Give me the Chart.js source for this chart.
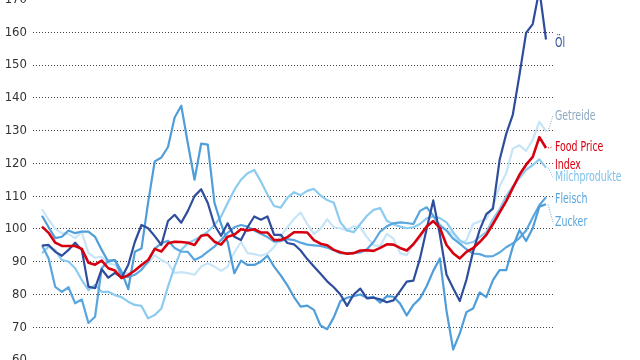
<!DOCTYPE html>
<html lang="de">
<head>
    <meta charset="UTF-8">
    <title>Food Price Index</title>
    <script src="https://cdn.jsdelivr.net/npm/chart.js"></script>
    <style>
        html, body { margin: 0; padding: 0; background: #fff; overflow: hidden; }
        .wrap { position: relative; width: 640px; height: 360px; overflow: hidden; }
        canvas { position: absolute; left: 0; top: -20px; }
    </style>
</head>
<body>
<div class="wrap"><canvas id="chart" width="640" height="400"></canvas></div>
<script>
// Indexwerte je Periode
const foodPrice = [100.7, 98.8, 95.8, 94.8, 94.8, 94.8, 93.9, 89.7, 89.1, 90.3,
    88.0, 87.3, 85.0, 85.9, 87.3, 89.0, 90.5, 93.9, 93.1, 95.6,
    96.1, 96.0, 95.8, 95.1, 97.9, 98.2, 96.1, 95.2, 97.6, 98.2,
    99.9, 99.5, 99.9, 98.9, 98.9, 96.6, 96.6, 97.5, 99.0, 99.0,
    98.9, 96.6, 95.5, 95.0, 93.6, 92.9, 92.4, 92.6, 93.4, 93.5,
    93.3, 94.2, 95.3, 95.2, 94.2, 93.4, 95.3, 98.0, 100.7, 102.4,
    100.3, 95.1, 92.6, 91.0, 93.0, 94.1, 96.0, 98.2, 101.5, 105.0,
    108.5, 112.5, 116.5, 119.6, 122.0, 128.0, 124.7];

const oel = [94.9, 95.1, 93.0, 91.8, 93.6, 95.8, 93.6, 82.4, 81.9, 87.7,
    85.1, 86.6, 85.1, 89.0, 96.0, 101.2, 100.2, 97.8, 95.1, 102.4,
    104.3, 101.9, 105.5, 110.0, 112.1, 107.9, 101.2, 97.9, 101.7, 97.6,
    96.6, 100.5, 103.8, 102.8, 103.8, 98.2, 98.2, 95.7, 95.3, 93.4,
    90.8, 88.5, 86.3, 84.0, 82.2, 80.0, 76.5, 80.0, 81.8, 78.8,
    79.0, 78.5, 77.6, 78.2, 81.0, 83.9, 84.2, 91.0, 100.0, 108.7,
    98.2, 86.0, 81.9, 78.0, 84.5, 93.0, 99.7, 104.5, 106.2, 121.0,
    129.0, 134.9, 147.0, 159.8, 162.5, 173.0, 157.8];

const getreide = [106.0, 102.8, 100.0, 98.7, 98.5, 97.2, 99.0, 92.6, 91.2, 91.5,
    89.5, 89.0, 86.2, 86.5, 87.3, 88.5, 89.5, 92.0, 90.5, 89.5,
    86.5, 86.8, 86.5, 86.0, 88.5, 89.5, 88.5, 87.2, 88.5, 92.8,
    96.0, 92.6, 92.3, 91.8, 92.5, 94.5, 97.8, 100.5, 103.0, 105.0,
    101.5, 98.5, 100.0, 103.0, 100.5, 100.2, 99.5, 100.8, 100.5, 97.5,
    95.0, 94.8, 98.5, 97.0, 92.6, 92.0, 95.5, 97.0, 100.5, 102.2,
    101.5, 99.7, 98.5, 95.5, 96.5, 101.5, 102.3, 103.0, 107.0, 113.0,
    117.0, 124.5, 125.5, 123.8, 127.2, 132.7, 129.8];

const milchprodukte = [92.6, 94.6, 93.5, 90.5, 90.0, 88.0, 84.4, 81.3, 82.9, 80.8,
    80.8, 79.8, 79.2, 77.8, 76.8, 76.5, 72.7, 73.7, 75.7, 82.4,
    88.5, 93.6, 95.6, 96.6, 97.8, 99.2, 101.2, 103.8, 107.9, 111.9,
    115.0, 117.0, 118.0, 114.5, 110.5, 107.0, 106.5, 109.5, 111.2, 110.3,
    111.6, 112.2, 110.2, 108.8, 108.0, 102.0, 99.5, 99.0, 101.5, 104.0,
    105.8, 106.4, 102.5, 101.4, 100.7, 100.2, 100.5, 101.5, 103.2, 103.8,
    103.3, 102.0, 99.0, 96.5, 95.5, 96.0, 97.5, 99.0, 103.0, 106.0,
    110.0, 113.0, 115.5, 118.0, 119.5, 121.2, 118.7];

const fleisch = [95.0, 91.0, 82.3, 80.8, 82.2, 77.3, 78.5, 71.3, 73.2, 88.0,
    90.3, 90.5, 85.5, 85.3, 86.0, 87.5, 90.0, 94.0, 95.6, 96.4,
    94.2, 93.1, 93.0, 90.5, 91.5, 93.1, 94.6, 96.6, 98.8, 100.5,
    101.2, 100.7, 99.5, 98.5, 97.5, 96.1, 96.3, 96.9, 96.6, 95.8,
    95.2, 95.0, 94.8, 94.3, 93.5, 92.6, 92.6, 92.6, 92.8, 93.8,
    96.0, 99.2, 100.8, 101.7, 102.0, 101.8, 101.5, 105.5, 106.6, 104.0,
    101.0, 99.5, 97.0, 95.5, 93.8, 92.5, 92.3, 91.6, 91.7, 92.8,
    94.4, 95.6, 97.2, 99.5, 103.5, 107.2, 109.7];

const zucker = [104.0, 100.5, 97.2, 97.6, 99.5, 98.7, 99.2, 99.2, 97.6, 93.6,
    90.0, 90.5, 87.0, 81.6, 93.0, 94.0, 108.0, 120.6, 121.8, 125.0,
    134.0, 137.6, 126.0, 115.0, 126.0, 125.7, 108.0, 101.5, 96.0, 86.5,
    90.3, 89.0, 89.0, 90.0, 91.8, 88.5, 85.8, 82.8, 79.2, 76.3,
    76.6, 75.3, 70.5, 69.4, 73.0, 78.0, 79.0, 79.5, 80.0, 79.0,
    79.3, 77.5, 79.5, 79.3, 77.2, 73.6, 76.8, 78.8, 82.5, 87.2,
    91.0, 75.0, 63.2, 68.1, 74.6, 75.7, 80.6, 79.2, 84.4, 87.4,
    87.4, 94.6, 99.6, 96.3, 100.2, 106.8, 107.5];

const yTicks = { min: 60, max: 170, step: 10 };

// Beschriftung am rechten Rand (Wert = Höhe der Beschriftung)
const endLabels = [
    { text: "Öl", value: 156.8, color: "#2e4d9c" },
    { text: "Getreide", value: 134.5, color: "#8eaac2", leader: getreide },
    { text: "Food Price", value: 125.0, color: "#d7000f", leader: foodPrice },
    { text: "Index", value: 119.4, color: "#d7000f" },
    { text: "Milchprodukte", value: 115.7, color: "#7fc2ea", leader: milchprodukte },
    { text: "Fleisch", value: 109.2, color: "#5aa4dc" },
    { text: "Zucker", value: 102.1, color: "#5aa4dc", leader: zucker }
];

const schrift = '"DejaVu Sans Condensed", "Liberation Sans", sans-serif';
const punkte = arr => arr.map((v, i) => ({ x: i, y: v }));

const labelPlugin = {
    id: "endLabels",
    afterDatasetsDraw(chart) {
        const { ctx, chartArea, scales } = chart;
        const lastX = scales.x.getPixelForValue(foodPrice.length - 1);
        ctx.save();
        ctx.textBaseline = "middle";
        ctx.textAlign = "left";
        endLabels.forEach(l => {
            const y = scales.y.getPixelForValue(l.value);
            if (l.leader) {
                const y0 = scales.y.getPixelForValue(l.leader[l.leader.length - 1]);
                ctx.strokeStyle = l.color;
                ctx.lineWidth = 1;
                ctx.setLineDash([1, 1.5]);
                ctx.beginPath();
                ctx.moveTo(lastX + 2, y0);
                ctx.lineTo(chartArea.right - 2, y);
                ctx.stroke();
            }
            // schmal gestauchte Schrift wie im Original
            ctx.save();
            ctx.translate(chartArea.right, y);
            ctx.scale(0.72, 1);
            ctx.font = "14.5px " + schrift;
            ctx.fillStyle = l.color;
            ctx.fillText(l.text, 0, 0);
            ctx.restore();
        });
        ctx.restore();
    }
};

const ctx = document.getElementById("chart").getContext("2d");
new Chart(ctx, {
    type: "line",
    data: {
        datasets: [
            { label: "Food Price Index", data: punkte(foodPrice), borderColor: "#d7000f", borderWidth: 2.6 },
            { label: "Öl", data: punkte(oel), borderColor: "#2e4d9c", borderWidth: 2.2 },
            { label: "Zucker", data: punkte(zucker), borderColor: "#4f9dd9", borderWidth: 2.2 },
            { label: "Fleisch", data: punkte(fleisch), borderColor: "#5aa6de", borderWidth: 2.2 },
            { label: "Milchprodukte", data: punkte(milchprodukte), borderColor: "#8ccbf0", borderWidth: 2.2 },
            { label: "Getreide", data: punkte(getreide), borderColor: "#c6e5f7", borderWidth: 2.2 }
        ]
    },
    options: {
        responsive: false,
        animation: false,
        layout: { padding: { top: 19.5, bottom: 20, left: 0, right: 85 } },
        elements: {
            point: { radius: 0 },
            line: { tension: 0, borderJoinStyle: "round", fill: false }
        },
        plugins: { legend: { display: false }, tooltip: { enabled: false } },
        scales: {
            x: { type: "linear", display: false, min: -1.357, max: 77.357 },
            y: {
                min: yTicks.min,
                max: yTicks.max,
                afterFit: s => { s.width = 33; },
                ticks: { stepSize: yTicks.step, padding: 6, color: "#333", font: { family: schrift, size: 13 } },
                grid: { color: "#444", lineWidth: 1, drawTicks: false },
                border: { display: false, dash: [1, 2] }
            }
        }
    },
    plugins: [labelPlugin]
});
</script>
</body>
</html>
